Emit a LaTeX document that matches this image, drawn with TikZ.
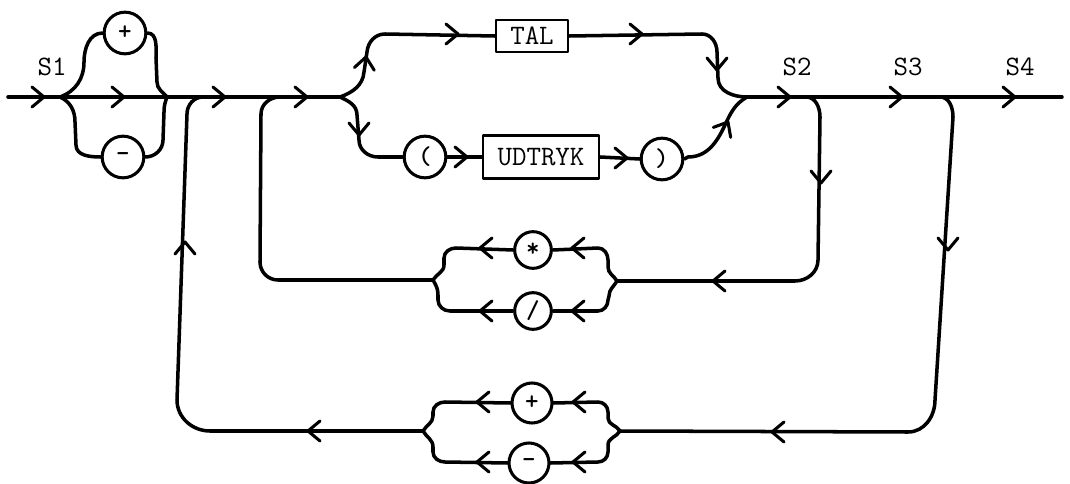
\documentclass[tikz,border=0pt]{standalone}
\usepackage{fontspec}
\begin{document}
\begin{tikzpicture}[x=0.03cm,y=-0.03cm, line width=3pt, line join=round, line cap=round,
  term/.style={draw, circle, minimum size=1.25cm, inner sep=0pt, line width=2.6pt,
    font=\ttfamily\bfseries\fontsize{22}{22}\selectfont},
  smallterm/.style={term, minimum size=1.1cm},
  nonterm/.style={draw, rectangle, inner sep=0pt, line width=2.2pt,
    font=\ttfamily\fontsize{24}{24}\selectfont},
  lbl/.style={font=\ttfamily\fontsize{24}{24}\selectfont, inner sep=0pt},
  chev/.pic={\draw[line width=2.6pt] (-12,10) -- (0,0) -- (-12,-10);}
]
\useasboundingbox (0,0) rectangle (1070,484);

% labels
\node[lbl] (s1) at (52,67) {S1};
\node[lbl] (s2) at (797,67) {S2};
\node[lbl] (s3) at (908,67) {S3};
\node[lbl] (s4) at (1020,67) {S4};

% terminals / nonterminals
\node[term] (p1) at (125,33) {+};
\node[term] (m1) at (123,157) {-};
\node[nonterm, minimum width=2.16cm, minimum height=0.96cm] (tal) at (532,36) {TAL};
\node[term] (lp) at (425,157) {(};
\node[nonterm, minimum width=3.48cm, minimum height=1.29cm] (ud) at (541,157) {UDTRYK};
\node[term] (rp) at (662,159) {)};
\node[smallterm] (st) at (533,250) {*};
\node[smallterm] (sl) at (533,311) {/};
\node[term, minimum size=1.2cm] (p2) at (532,403) {+};
\node[term, minimum size=1.2cm] (m2) at (529,463) {-};

% junction coordinates
\coordinate (start) at (8,97);
\coordinate (sA) at (60,97);
\coordinate (jA) at (167,97);
\coordinate (oJ) at (203,97);
\coordinate (iJ) at (280,97);
\coordinate (sB) at (340,97);
\coordinate (jB) at (747,97);
\coordinate (iS) at (806,97);
\coordinate (oS) at (940,97);
\coordinate (end) at (1062,97);
\coordinate (lS) at (433,280);
\coordinate (rS) at (617,281);
\coordinate (bL) at (423,431);
\coordinate (bR) at (620,431);

% main line
\draw (start) -- (sB);
\draw (jB) -- (end);

% sign branches
\draw (sA) to[out=20,in=-90] (84,62) to[out=90,in=180] (p1.west);
\draw (p1.east) to[out=0,in=90] (156,58) -- (157,82) to[out=-90,in=130] (jA);
\draw (sA) to[out=-25,in=90] (75,122) -- (76,145) to[out=-90,in=180] (m1.west);
\draw (m1.east) to[out=0,in=-90] (163,140) -- (164,112) to[out=90,in=-110] (jA);

% top alternatives
\draw (sB) to[out=20,in=-95] (364,72) -- (367,52) to[out=85,in=180] (385,34) -- (tal.west);
\draw (tal.east) -- (702,34) to[out=0,in=90] (717,52) -- (718,78) to[out=-90,in=180] (jB);
\draw (sB) to[out=-25,in=90] (357,115) -- (359,140) to[out=-90,in=180] (378,157) -- (lp.west);
\draw (lp.east) -- (ud.west);
\draw (ud.east) -- (rp.west);
\draw (rp.east) -- (688,157) to[out=0,in=-115] (725,125) to[out=65,in=-150] (jB);

% inner loop (* /)
\draw (iS) to[out=0,in=90] (820,117) -- (818,260) to[out=-90,in=0] (795,281) -- (rS);
\draw (st.east) -- (598,248) to[out=0,in=90] (608,260) -- (608,267) to[out=-90,in=120] (rS);
\draw (sl.east) -- (598,311) to[out=0,in=-90] (608,300) -- (609,296) to[out=90,in=-120] (rS);
\draw (lS) to[out=60,in=-90] (444,265) -- (444,258) to[out=90,in=180] (456,248) -- (st.west);
\draw (lS) to[out=-60,in=90] (438,295) -- (438,300) to[out=-90,in=180] (450,311) -- (sl.west);
\draw (lS) -- (278,280) to[out=180,in=-90] (260,262) -- (261,114) to[out=90,in=180] (iJ);

% outer loop (+ -)
\draw (oS) to[out=0,in=90] (953,117) -- (935,400) to[out=-90,in=0] (908,432) -- (bR);
\draw (p2.east) -- (598,402) to[out=0,in=90] (608,412) -- (608,418) to[out=-90,in=120] (bR);
\draw (m2.east) -- (598,462) to[out=0,in=-90] (608,452) -- (608,445) to[out=90,in=-120] (bR);
\draw (bL) to[out=60,in=-90] (433,416) -- (433,412) to[out=90,in=180] (445,402) -- (p2.west);
\draw (bL) to[out=-60,in=90] (433,447) -- (433,452) to[out=-90,in=180] (445,462) -- (m2.west);
\draw (bL) -- (210,431) to[out=180,in=-90] (177,400) -- (187,114) to[out=90,in=180] (oJ);

% arrowheads
\foreach \x in {44,124,225,307,790,902,1015} \pic at (\x,97) {chev};
\pic[rotate=82] at (366,57) {chev};
\pic at (458,34) {chev};
\pic at (642,34) {chev};
\pic[rotate=-90] at (717,70) {chev};
\pic[rotate=-90] at (359,135) {chev};
\pic at (467,157) {chev};
\pic at (627,158) {chev};
\pic[rotate=60] at (728,122) {chev};
\pic[rotate=-90] at (821,183) {chev};
\pic[rotate=180] at (713,281) {chev};
\pic[rotate=180] at (480,248) {chev};
\pic[rotate=180] at (572,248) {chev};
\pic[rotate=180] at (480,311) {chev};
\pic[rotate=180] at (572,311) {chev};
\pic[rotate=90] at (185,242) {chev};
\pic[rotate=180] at (308,431) {chev};
\pic[rotate=180] at (477,402) {chev};
\pic[rotate=180] at (573,402) {chev};
\pic[rotate=180] at (477,462) {chev};
\pic[rotate=180] at (573,462) {chev};
\pic[rotate=180] at (772,432) {chev};
\pic[rotate=-90] at (948,250) {chev};
\end{tikzpicture}
\end{document}
